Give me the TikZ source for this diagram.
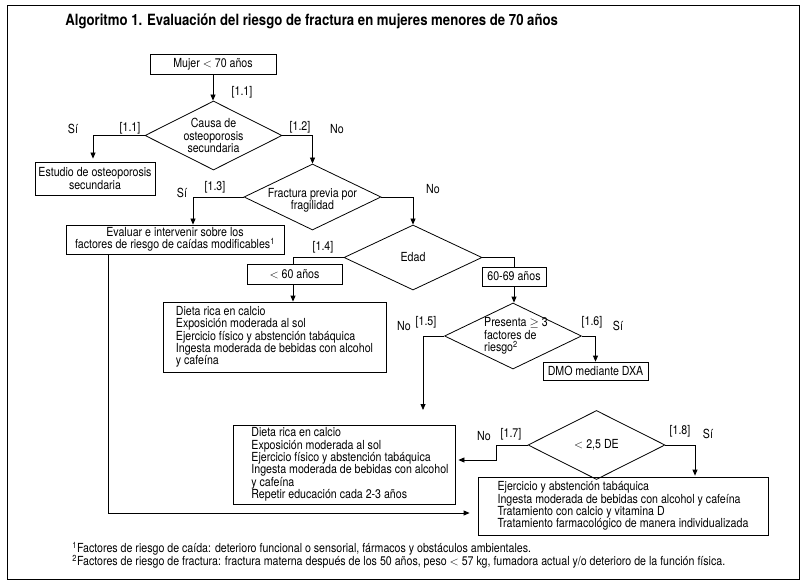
\documentclass[tikz,border=0pt]{standalone}
\usepackage{fontspec}
\setmainfont{TeX Gyre Heros}[FakeStretch=0.85]
\usetikzlibrary{shapes.geometric,arrows.meta}
\newcommand\myind{\hspace*{12pt}}
\begin{document}
\begin{tikzpicture}[x=1pt,y=-1pt,
  font=\fontsize{12.5}{12.3}\selectfont,
  line width=0.8pt,
  box/.style={draw, rectangle, inner sep=0pt, align=center},
  listbox/.style={draw, rectangle, inner sep=0pt, align=left},
  dia/.style={draw, diamond, inner sep=0pt},
  arr/.style={-{Triangle[length=6pt,width=5pt]}},
  lab/.style={inner sep=0pt}]
\useasboundingbox (0,0) rectangle (806,588);
\node[draw, line width=1pt, minimum width=792pt, minimum height=573pt, inner sep=0pt] (frame) at (403,292.5) {};

\node[lab, anchor=west, font=\fontsize{15.5}{18}\selectfont\bfseries] (title) at (65,21)
  {Algoritmo 1. Evaluación del riesgo de fractura en mujeres menores de 70 años};

\node[box, minimum width=126pt, minimum height=20pt] (mujer) at (213,64) {Mujer $<$ 70 años};
\node[dia, minimum width=137pt, minimum height=69pt,
  label={[lab, align=center]center:Causa de\\osteoporosis\\secundaria}] (d1) at (213.5,135.5) {};
\node[box, minimum width=120pt, minimum height=33pt] (estudio) at (95,178.5) {Estudio de osteoporosis\\secundaria};
\node[dia, minimum width=137pt, minimum height=66pt,
  label={[lab, align=center, yshift=-3pt]center:Fractura previa por\\fragilidad}] (d2) at (312.5,197) {};
\node[box, minimum width=218pt, minimum height=29pt] (ev) at (175,239.5)
  {Evaluar e intervenir sobre los\\factores de riesgo de caídas modificables\textsuperscript{1}};
\node[dia, minimum width=138pt, minimum height=65pt, label={[lab]center:Edad}] (d3) at (413,257.5) {};
\node[box, minimum width=95pt, minimum height=20pt] (lt) at (294.5,274) {$<$ 60 años};
\node[box, minimum width=64pt, minimum height=19pt] (gt) at (514,276.5) {60-69 años};
\node[listbox, minimum width=223pt, minimum height=70pt] (die1) at (274.5,337)
  {Dieta rica en calcio\\Exposición moderada al sol\\Ejercicio físico y abstención tabáquica\\Ingesta moderada de bebidas con alcohol\\y cafeína};
\node[dia, minimum width=137pt, minimum height=66pt,
  label={[lab, align=left, xshift=3pt]center:Presenta $\geq$ 3\\factores de\\riesgo\textsuperscript{2}}] (d4) at (513,336) {};
\node[box, minimum width=105pt, minimum height=18pt] (dmo) at (595.5,371) {DMO mediante DXA};
\node[listbox, minimum width=222pt, minimum height=79pt] (die2) at (344,464.5)
  {\myind Dieta rica en calcio\\\myind Exposición moderada al sol\\\myind Ejercicio físico y abstención tabáquica\\\myind Ingesta moderada de bebidas con alcohol\\\myind y cafeína\\\myind Repetir educación cada 2-3 años};
\node[dia, minimum width=137pt, minimum height=69pt, label={[lab]center:$<$ 2,5 DE}] (d5) at (596.5,445) {};
\node[listbox, minimum width=290pt, minimum height=58pt] (trat) at (623,506)
  {Ejercicio y abstención tabáquica\\Ingesta moderada de bebidas con alcohol y cafeína\\Tratamiento con calcio y vitamina D\\Tratamiento farmacológico de manera individualizada};

\node[lab, anchor=west] (fn1) at (72,549) {\textsuperscript{1}Factores de riesgo de caída: deterioro funcional o sensorial, fármacos y obstáculos ambientales.};
\node[lab, anchor=west] (fn2) at (72,562) {\textsuperscript{2}Factores de riesgo de fractura: fractura materna después de los 50 años, peso $<$ 57 kg, fumadora actual y/o deterioro de la función física.};

% branch labels
\node[lab] (b11a) at (242,92) {[1.1]};
\node[lab] (s1) at (73,129) {Sí};
\node[lab] (b11b) at (130,128) {[1.1]};
\node[lab] (b12) at (300,127) {[1.2]};
\node[lab] (n1) at (337,129) {No};
\node[lab] (s2) at (182,193) {Sí};
\node[lab] (b13) at (215,187) {[1.3]};
\node[lab] (n2) at (433,189) {No};
\node[lab] (b14) at (323,247) {[1.4]};
\node[lab] (n3) at (404,326) {No};
\node[lab] (b15) at (426,322) {[1.5]};
\node[lab] (b16) at (592,322) {[1.6]};
\node[lab] (s3) at (618,326) {Sí};
\node[lab] (n4) at (484,436) {No};
\node[lab] (b17) at (511,434) {[1.7]};
\node[lab] (b18) at (680,431) {[1.8]};
\node[lab] (s4) at (708,434) {Sí};

% connectors
\coordinate (a15) at (423,410);
\draw[arr] (mujer.south) -- (mujer.south |- d1.north);
\draw[arr, shorten >=3pt] (d1.west) -| ([xshift=-2pt]estudio.north);
\draw[arr] (d1.east) -| (d2.north);
\draw[arr] (d2.west) -| ([xshift=18pt]ev.north);
\draw[arr] (d2.east) -| (d3.north);
\draw (d3.west) -| ([xshift=-1.5pt]lt.north);
\draw (d3.east) -| (gt.north);
\draw[arr] ([xshift=-1.5pt]lt.south) -- ([xshift=-1.5pt]lt.south |- die1.north);
\draw[arr] (gt.south) -- (gt.south |- d4.north);
\draw[arr] (d4.west) -| (a15);
\draw[arr] (d4.east) -| (dmo.north);
\draw[arr, shorten >=3pt] (d5.west) -- ++(-31,0) |- ([yshift=4.5pt]die2.east);
\draw[arr, shorten >=1pt] (d5.east) -| ([xshift=72pt]trat.north);
\draw[arr, shorten >=8pt] ([xshift=-67pt]ev.south) |- ([yshift=-7pt]trat.west);
\end{tikzpicture}
\end{document}
